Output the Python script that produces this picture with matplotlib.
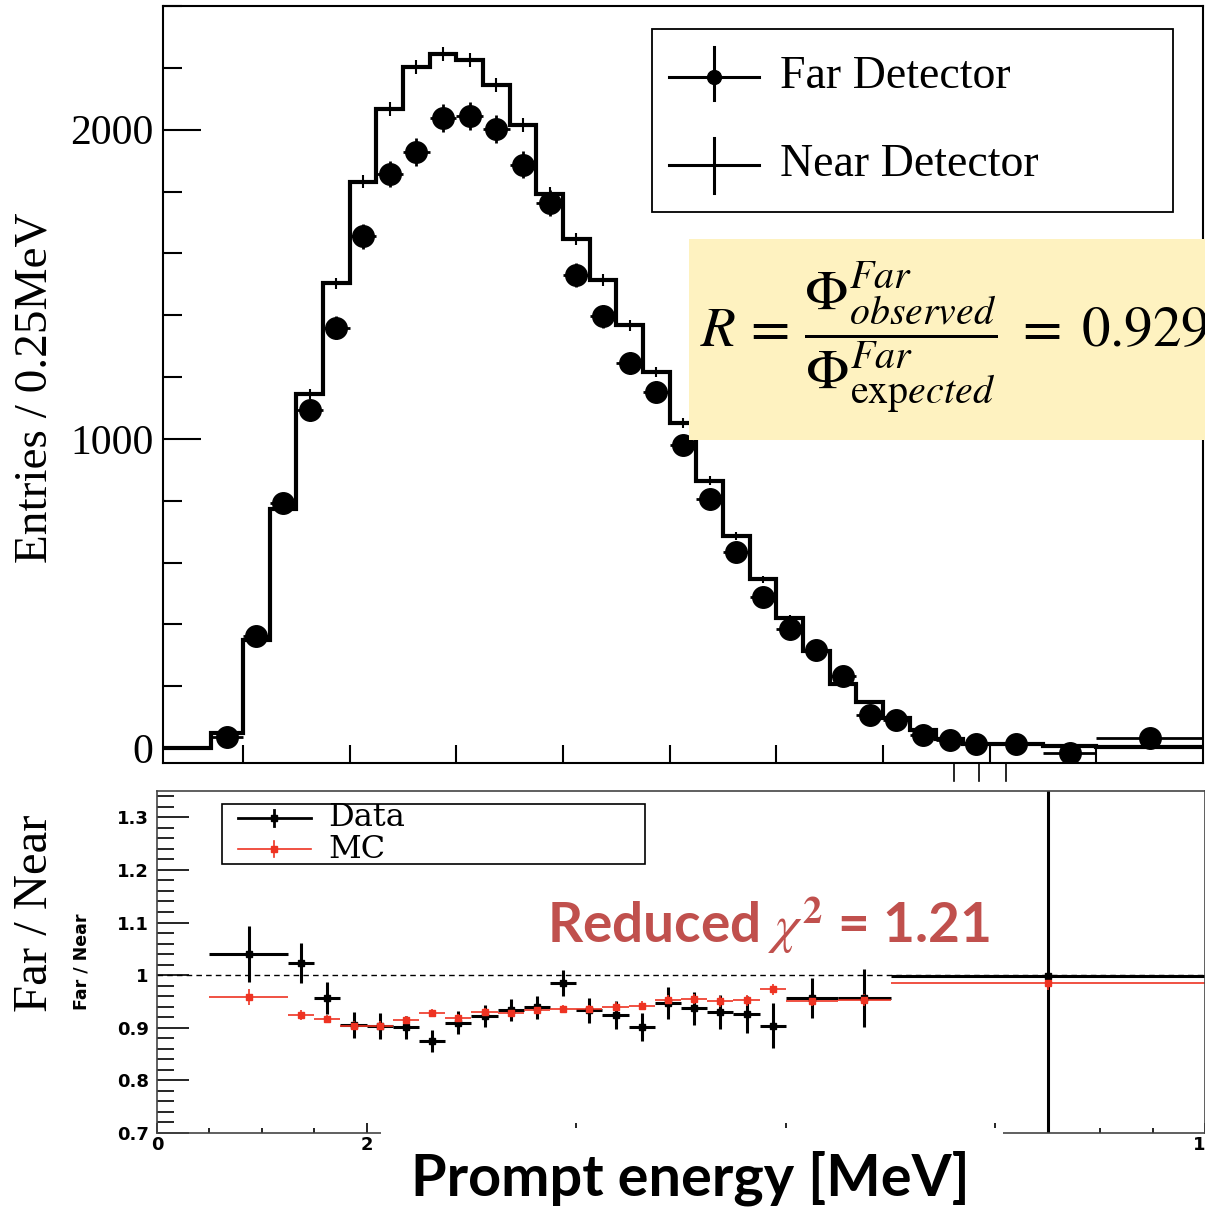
import numpy as np
import matplotlib.pyplot as plt
from matplotlib.lines import Line2D
from matplotlib.patches import Rectangle

plt.rcParams['font.family'] = ['Liberation Serif', 'DejaVu Serif']
plt.rcParams['mathtext.fontset'] = 'stix'

# top panel: prompt energy spectra, entries per bin
bin_edges = [0.0, 0.7, 1.0, 1.25, 1.5, 1.75, 2.0, 2.25, 2.5, 2.75, 3.0, 3.25, 3.5,
             3.75, 4.0, 4.25, 4.5, 4.75, 5.0, 5.25, 5.5, 5.75, 6.0, 6.25, 6.5, 6.75,
             7.0, 7.25, 7.5, 7.75, 8.0, 8.5, 9.0, 10.0]
near_counts = [0, 48, 350, 773, 1146, 1503, 1831, 2066, 2203, 2245, 2225, 2144, 2015,
               1793, 1647, 1515, 1367, 1216, 1051, 865, 686, 546, 420, 315, 207, 150,
               96, 58, 28, 15, 15, 6, 4]
near_err = [4, 10, 14, 17, 19, 21, 22, 23, 23, 23, 22, 22, 21, 20, 19, 18, 17, 16, 14,
            13, 11, 10, 9, 7, 6, 5, 4, 3, 2, 2, 1, 1]
far_counts = [37, 364, 792, 1092, 1359, 1655, 1857, 1928, 2039, 2044, 2001, 1887, 1763,
              1531, 1396, 1245, 1153, 981, 805, 635, 490, 384, 319, 233, 107, 91, 44,
              26, 12, 15, -17, 33]
far_err = [6, 19, 28, 33, 37, 41, 43, 44, 45, 45, 45, 43, 42, 39, 37, 35, 34, 31, 28, 25,
           22, 20, 18, 15, 10, 10, 7, 5, 4, 4, 4, 6]

# bottom panel: far / near ratio
ratio_edges = [0.5, 1.25, 1.5, 1.75, 2.0, 2.25, 2.5, 2.75, 3.0, 3.25, 3.5, 3.75, 4.0,
               4.25, 4.5, 4.75, 5.0, 5.25, 5.5, 5.75, 6.0, 6.5, 7.0, 10.0]
data_ratio = [1.040, 1.023, 0.957, 0.905, 0.904, 0.901, 0.875, 0.910, 0.922, 0.934,
              0.939, 0.985, 0.933, 0.924, 0.902, 0.947, 0.937, 0.930, 0.926, 0.904,
              0.956, 0.956, 0.998]
data_err = [0.053, 0.038, 0.030, 0.025, 0.025, 0.022, 0.021, 0.021, 0.021, 0.021, 0.022,
            0.024, 0.024, 0.026, 0.027, 0.030, 0.031, 0.033, 0.035, 0.043, 0.038, 0.055,
            0.60]
mc_ratio = [0.958, 0.924, 0.917, 0.904, 0.904, 0.914, 0.928, 0.918, 0.930, 0.928, 0.934,
            0.936, 0.936, 0.940, 0.942, 0.953, 0.955, 0.950, 0.952, 0.973, 0.951, 0.953,
            0.985]
mc_err = [0.015, 0.009, 0.008, 0.008, 0.008, 0.008, 0.008, 0.008, 0.008, 0.008, 0.008,
          0.008, 0.008, 0.009, 0.009, 0.010, 0.010, 0.010, 0.010, 0.011, 0.010, 0.012,
          0.014]

W, H = 1205, 1210
def fx(x):
    return x / W
def fy(y):
    return 1 - y / H

fig = plt.figure(figsize=(W / 100, H / 100), dpi=100)
ax1 = fig.add_axes([fx(163), fy(763), (1203 - 163) / W, (763 - 6) / H])
ax2 = fig.add_axes([fx(157), fy(1133), (1205 - 157) / W, (1133 - 791) / H])

# --- top panel
edges = np.array(bin_edges)
centers = (edges[:-1] + edges[1:]) / 2
halfw = np.diff(edges) / 2
near = np.array(near_counts)

ax1.stairs(near, edges, baseline=None, color='black', lw=3)
ax1.errorbar(centers[1:], near[1:], yerr=near_err, fmt='none', ecolor='black',
             elinewidth=1.5)
ax1.errorbar(centers[1:], far_counts, xerr=halfw[1:], yerr=far_err, fmt='o',
             color='black', ms=15.5, elinewidth=2, capsize=0)

ax1.set_xlim(0.25, 10.0)
ax1.set_ylim(-48, 2400)
ax1.set_xticks(np.arange(1, 10))
ax1.set_xticklabels([])
ax1.set_yticks([0, 1000, 2000])
ax1.set_yticks(np.arange(0, 2401, 200), minor=True)
ax1.tick_params(axis='y', which='major', direction='in', length=27, width=1.5,
                labelsize=30, pad=7)
ax1.tick_params(axis='y', which='minor', direction='in', length=14, width=1.5)
ax1.tick_params(axis='x', which='major', direction='in', length=13, width=1.5)
for s in ax1.spines.values():
    s.set_linewidth(1.5)

fig.text(fx(35), fy(388), 'Entries / 0.25MeV', rotation=90, fontsize=34,
         ha='center', va='center')

# stray ticks below the upper frame
for xp in [954, 979, 1006]:
    fig.add_artist(Line2D([fx(xp), fx(xp)], [fy(763), fy(781)],
                          transform=fig.transFigure, color='black', lw=1.2))

# legend of the upper panel
fig.add_artist(Rectangle((fx(652), fy(212)), (1173 - 652) / W, (212 - 29) / H,
                         transform=fig.transFigure, fill=False, ec='black', lw=1.3))
for yy, y0, y1, mark in [(77, 47, 100, True), (165, 138, 193, False)]:
    fig.add_artist(Line2D([fx(669), fx(759)], [fy(yy), fy(yy)],
                          transform=fig.transFigure, color='black', lw=2.2))
    fig.add_artist(Line2D([fx(714), fx(714)], [fy(y0), fy(y1)],
                          transform=fig.transFigure, color='black', lw=2.2))
    if mark:
        fig.add_artist(Line2D([fx(714)], [fy(yy)], transform=fig.transFigure,
                              marker='o', ms=10, color='black'))
fig.text(fx(780), fy(77), 'Far Detector', fontsize=33, va='center', ha='left')
fig.text(fx(780), fy(165), 'Near Detector', fontsize=33, va='center', ha='left')

# formula box
fig.add_artist(Rectangle((fx(689), fy(440)), (1210 - 689) / W, (440 - 239) / H,
                         transform=fig.transFigure, fc='#fef2c0', ec='none',
                         zorder=5))
fig.text(fx(700), fy(339),
         r'$R\, =\, \dfrac{\Phi^{Far}_{observed}}{\Phi^{Far}_{\mathrm{exp}ected}}\;=\; 0.929$',
         fontsize=41, ha='left', va='center', zorder=6)

# --- bottom panel
redges = np.array(ratio_edges)
rc = (redges[:-1] + redges[1:]) / 2
rhw = np.diff(redges) / 2

ax2.axhline(1.0, color='black', lw=1, ls=(0, (4, 3)))
ax2.errorbar(rc, data_ratio, xerr=rhw, yerr=data_err, fmt='s', color='black',
             ms=4, elinewidth=2.2, capsize=0)
ax2.errorbar(rc, mc_ratio, xerr=rhw, yerr=mc_err, fmt='s', color='#ee3322',
             ms=5, elinewidth=1.2, capsize=0)

ax2.set_xlim(0, 10)
ax2.set_ylim(0.7, 1.35)
ax2.set_yticks([0.7, 0.8, 0.9, 1.0, 1.1, 1.2, 1.3],
               labels=['0.7', '0.8', '0.9', '1', '1.1', '1.2', '1.3'])
ax2.set_yticks(np.arange(0.7, 1.351, 0.02), minor=True)
# labels 4, 6, 8 sit under the white slide box, so they are left empty
ax2.set_xticks(np.arange(0, 11, 2), labels=['0', '2', '', '', '', '10'])
ax2.set_xticks(np.arange(0, 10.01, 0.5), minor=True)
ax2.tick_params(axis='y', which='major', direction='in', length=23, width=1.2, pad=6)
ax2.tick_params(axis='y', which='minor', direction='in', length=12, width=1.2)
ax2.tick_params(axis='x', which='major', direction='in', length=7, width=1.2, pad=2)
ax2.tick_params(axis='x', which='minor', direction='in', length=3.6, width=1.2)
for lab in ax2.get_xticklabels() + ax2.get_yticklabels():
    lab.set_fontfamily('DejaVu Sans')
    lab.set_fontweight('bold')
    lab.set_fontsize(13)
for s in ax2.spines.values():
    s.set_linewidth(1.2)
    s.set_color('#444444')

fig.text(fx(35), fy(913), 'Far / Near', rotation=90, fontsize=35,
         ha='center', va='center')
fig.text(fx(81), fy(962), 'Far / Near', rotation=90, fontsize=12.5,
         fontfamily='DejaVu Sans', fontweight='bold',
         ha='center', va='center')

# legend of the lower panel
fig.add_artist(Rectangle((fx(222), fy(864)), (645 - 222) / W, (864 - 804) / H,
                         transform=fig.transFigure, fill=False, ec='black', lw=1.2))
for yy, col, lw in [(818, 'black', 2.0), (849, '#ee3322', 1.2)]:
    fig.add_artist(Line2D([fx(238), fx(311)], [fy(yy), fy(yy)],
                          transform=fig.transFigure, color=col, lw=lw))
    fig.add_artist(Line2D([fx(274), fx(274)], [fy(yy - 8), fy(yy + 8)],
                          transform=fig.transFigure, color=col, lw=lw))
    fig.add_artist(Line2D([fx(274)], [fy(yy)], transform=fig.transFigure,
                          marker='s', ms=5, color=col))
fig.text(fx(328), fy(818), 'Data', fontsize=23, fontfamily='DejaVu Serif',
         va='center', ha='left')
fig.text(fx(328), fy(849), 'MC', fontsize=23, fontfamily='DejaVu Serif',
         va='center', ha='left')

fig.text(fx(547), fy(943), r'Reduced $\chi^{\mathbf{2}}$ = 1.21', fontsize=39.5,
         fontfamily='Lato', fontweight='bold', color='#c0504d',
         ha='left', va='baseline')

# white slide box that hides part of the lower axis, with the axis title
fig.add_artist(Rectangle((fx(381), 0), (1003 - 381) / W, (1210 - 1128) / H,
                         transform=fig.transFigure, fc='white', ec='none', zorder=5))
fig.text(fx(690), fy(1195), 'Prompt energy [MeV]', fontsize=41.5, fontfamily='Lato',
         fontweight='bold', ha='center', va='baseline', zorder=6)

fig.savefig('out.png', dpi=100)
